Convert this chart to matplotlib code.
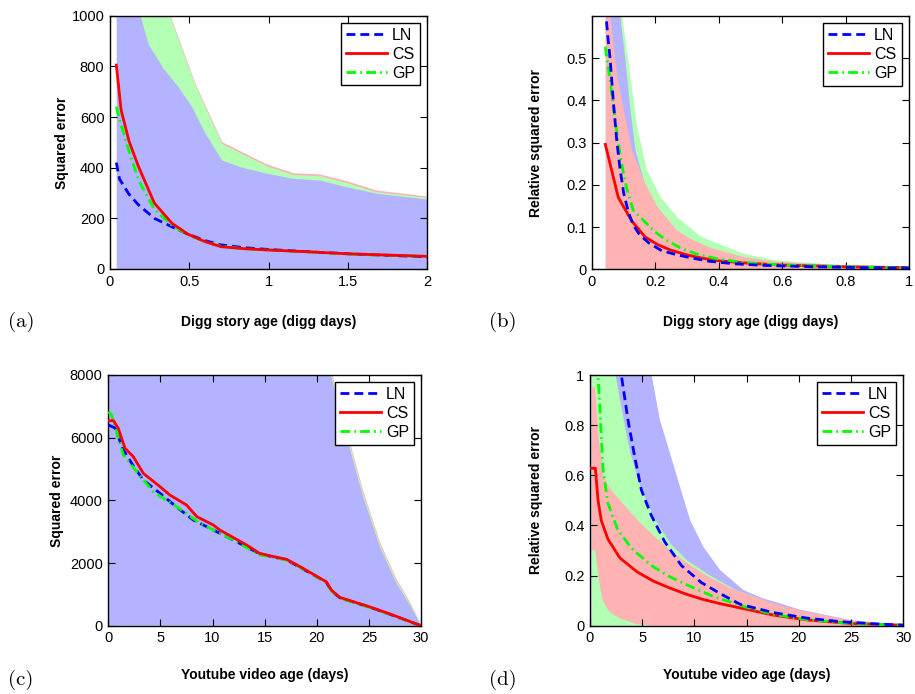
import matplotlib
matplotlib.use('Agg')
import matplotlib.pyplot as plt
from matplotlib.ticker import FuncFormatter

plt.rcParams['font.family'] = ['Liberation Sans', 'DejaVu Sans']

BLUE_F = '#b3b3ff'
GREEN_F = '#b3ffb3'
RED_F = '#ffb3b3'

LEGEND = ['LN', 'CS', 'GP']

# ---------------- Panel (a): Digg, squared error ----------------
a_cs_x = [0.04, 0.07, 0.12, 0.18, 0.28, 0.39, 0.49, 0.6, 0.7, 0.85, 1.0, 1.25, 1.5, 1.75, 2.0]
a_cs_y = [805, 628, 505, 404, 260, 181, 138, 108, 88, 80, 75, 68, 60, 55, 50]
a_ln_x = [0.04, 0.06, 0.12, 0.18, 0.28, 0.39, 0.49, 0.6, 0.7, 0.85, 1.0, 1.25, 1.5, 1.75, 2.0]
a_ln_y = [420, 355, 295, 253, 200, 167, 138, 112, 95, 84, 77, 68, 60, 54, 48]
a_gp_x = [0.04, 0.06, 0.12, 0.18, 0.28, 0.39, 0.49, 0.6, 0.7, 0.85, 1.0, 1.25, 1.5, 1.75, 2.0]
a_gp_y = [641, 590, 465, 351, 235, 173, 135, 108, 90, 80, 75, 67, 59, 54, 50]
a_blue_x = [0.04, 0.19, 0.24, 0.336, 0.43, 0.515, 0.60, 0.705, 0.82, 0.99, 1.155, 1.325, 1.49, 1.68, 2.0]
a_blue_top = [1500, 1000, 890, 792, 720, 641, 536, 430, 404, 378, 358, 351, 325, 299, 276]
a_band_x = [0.04, 0.2, 0.38, 0.536, 0.705, 0.98, 1.155, 1.325, 1.49, 1.68, 2.0]
a_red_top = [1800, 1300, 1000, 733, 503, 417, 380, 375, 349, 312, 288]
a_green_top = [1790, 1295, 993, 726, 496, 410, 373, 368, 342, 305, 283]

# ---------------- Panel (b): Digg, relative squared error ----------------
b_cs_x = [0.042, 0.083, 0.125, 0.167, 0.208, 0.25, 0.3, 0.35, 0.4, 0.5, 0.6, 0.7, 0.8, 0.9, 1.0]
b_cs_y = [0.296, 0.170, 0.115, 0.077, 0.058, 0.045, 0.034, 0.026, 0.02, 0.014, 0.010, 0.008, 0.006, 0.005, 0.004]
b_ln_x = [0.042, 0.05, 0.057, 0.067, 0.078, 0.088, 0.1, 0.115, 0.13, 0.15, 0.18, 0.22, 0.27, 0.32, 0.37, 0.45, 0.55, 0.7, 0.85, 1.0]
b_ln_y = [0.62, 0.55, 0.50, 0.40, 0.306, 0.24, 0.18, 0.135, 0.105, 0.082, 0.062, 0.044, 0.034, 0.026, 0.019, 0.013, 0.009, 0.006, 0.004, 0.003]
b_gp_x = [0.042, 0.057, 0.073, 0.088, 0.1, 0.11, 0.13, 0.162, 0.2, 0.235, 0.28, 0.33, 0.4, 0.47, 0.55, 0.7, 0.85, 1.0]
b_gp_y = [0.527, 0.448, 0.354, 0.274, 0.225, 0.19, 0.14, 0.116, 0.088, 0.069, 0.05, 0.036, 0.024, 0.017, 0.012, 0.008, 0.005, 0.004]
b_red_x = [0.042, 0.057, 0.078, 0.099, 0.125, 0.162, 0.204, 0.267, 0.31, 0.372, 0.477, 0.58, 0.79, 1.0]
b_red_top = [0.70, 0.598, 0.456, 0.377, 0.282, 0.211, 0.15, 0.093, 0.073, 0.052, 0.03, 0.019, 0.01, 0.006]
b_blue_x = [0.042, 0.088, 0.104, 0.12, 0.136, 0.162, 0.2, 0.3, 0.5, 1.0]
b_blue_top = [0.9, 0.6, 0.496, 0.377, 0.282, 0.211, 0.14, 0.06, 0.02, 0.005]
b_green_x = [0.042, 0.094, 0.12, 0.141, 0.172, 0.215, 0.267, 0.34, 0.372, 0.477, 0.58, 0.79, 1.0]
b_green_top = [1.0, 0.6, 0.456, 0.338, 0.235, 0.172, 0.125, 0.08, 0.069, 0.038, 0.022, 0.011, 0.007]

# ---------------- Panel (c): Youtube, squared error ----------------
c_cs_x = [0, 0.5, 0.96, 1.6, 2.4, 3.36, 4.96, 5.9, 7.5, 8.5, 10.07, 10.7, 13.27, 14.5, 15.5, 17.1, 18.4, 20.9, 21.4, 22.2, 25, 27.3, 30]
c_cs_y = [6543, 6543, 6300, 5662, 5394, 4862, 4437, 4172, 3853, 3479, 3214, 3054, 2576, 2311, 2230, 2119, 1883, 1405, 1139, 905, 610, 341, 0]
c_ln_x = [0, 0.64, 1.44, 2.4, 3.36, 4.96, 6.5, 8.15, 9.8, 11.35, 13, 14.5, 15.5, 17.1, 18.4, 20.9, 21.4, 22.2, 25, 27.3, 30]
c_ln_y = [6406, 6311, 5608, 5100, 4650, 4225, 3800, 3374, 3100, 2842, 2560, 2300, 2220, 2100, 1860, 1390, 1120, 890, 600, 330, 0]
c_gp_x = [0, 0.32, 1.44, 2.72, 4.3, 6.55, 8.8, 12, 14.5, 15.5, 17.1, 18.4, 20.9, 21.4, 22.2, 25, 27.3, 30]
c_gp_y = [6831, 6725, 5449, 4916, 4278, 3800, 3267, 2735, 2260, 2210, 2090, 1860, 1390, 1110, 880, 590, 330, 0]
c_band_x = [0, 10, 15, 20, 21.4, 22.86, 24.45, 26.05, 27.65, 28.9, 29.9, 30]
c_blue_top = [40000, 22000, 16000, 9800, 7947, 6032, 4117, 2521, 1353, 680, 70, 0]
c_green_top = [40100, 22100, 16100, 9920, 8060, 6140, 4215, 2600, 1420, 730, 95, 0]
c_red_top = [40200, 22200, 16200, 10040, 8170, 6245, 4310, 2680, 1490, 780, 120, 0]

# ---------------- Panel (d): Youtube, relative squared error ----------------
d_cs_x = [0.1, 0.51, 0.61, 0.77, 1.08, 1.72, 2.87, 4.5, 6.06, 7.66, 9.26, 10.8, 12.45, 15.6, 17.6, 20.8, 24.9, 30]
d_cs_y = [0.628, 0.628, 0.581, 0.50, 0.42, 0.345, 0.27, 0.215, 0.178, 0.15, 0.125, 0.105, 0.088, 0.06, 0.042, 0.023, 0.009, 0.002]
d_ln_x = [2.8, 3.0, 3.64, 4.28, 4.92, 5.87, 7.15, 8.75, 10.66, 12.6, 14.4, 17.6, 20.8, 24, 27, 30]
d_ln_y = [1.1, 1.0, 0.82, 0.674, 0.541, 0.44, 0.335, 0.24, 0.172, 0.125, 0.085, 0.052, 0.03, 0.016, 0.008, 0.002]
d_gp_x = [0.6, 0.77, 0.93, 1.08, 1.25, 1.72, 2.68, 3.96, 4.47, 6.06, 7.66, 9.26, 11.9, 15.1, 17.6, 20.8, 24.9, 30]
d_gp_y = [1.2, 0.993, 0.887, 0.754, 0.621, 0.488, 0.38, 0.31, 0.29, 0.235, 0.195, 0.163, 0.115, 0.072, 0.045, 0.024, 0.009, 0.002]
d_red_x = [0.13, 0.45, 0.77, 1.08, 1.25, 1.72, 2.04, 2.87, 4.47, 6.06, 7.66, 9.26, 11.18, 13.4, 15.1, 17.6, 20.8, 24.9, 29.7]
d_red_top = [0.953, 0.953, 0.754, 0.66, 0.6, 0.56, 0.54, 0.5, 0.425, 0.36, 0.303, 0.252, 0.2, 0.152, 0.128, 0.089, 0.056, 0.023, 0.003]
d_red_low = [0.302, 0.302, 0.195, 0.116, 0.095, 0.063, 0.05, 0.03, 0.008, 0, 0, 0, 0, 0, 0, 0, 0, 0, 0]
d_green_x = [0.13, 2.4, 3.19, 3.83, 4.79, 6.06, 7.66, 9.26, 11.18, 13.4, 16, 20, 25, 30]
d_green_top = [1.6, 1.0, 0.82, 0.688, 0.554, 0.435, 0.329, 0.262, 0.209, 0.156, 0.1, 0.05, 0.018, 0.002]
d_blue_x = [0.13, 5.9, 6.7, 7.66, 8.62, 9.58, 10.85, 12.45, 14.7, 16.5, 18.2, 20, 25, 30]
d_blue_top = [3.0, 1.0, 0.82, 0.688, 0.554, 0.422, 0.315, 0.222, 0.142, 0.11, 0.089, 0.065, 0.022, 0.003]

# ---------------- Figure ----------------
W, H = 915, 694
fig = plt.figure(figsize=(W / 100, H / 100), dpi=100)


def add_ax(l, t, r, b):
    return fig.add_axes([l / W, 1 - b / H, (r - l) / W, (b - t) / H])


fmt = FuncFormatter(lambda v, p: '%g' % v)


def style(ax, xlim, ylim, xticks, yticks, xlabel, ylabel, ylx):
    ax.set_xlim(*xlim)
    ax.set_ylim(*ylim)
    ax.set_xticks(xticks)
    ax.set_yticks(yticks)
    ax.xaxis.set_major_formatter(fmt)
    ax.yaxis.set_major_formatter(fmt)
    ax.tick_params(direction='in', top=True, right=True, length=5, width=0.8,
                   labelsize=10.5, pad=4)
    for s in ax.spines.values():
        s.set_linewidth(1.0)
    ax.set_xlabel(xlabel, fontsize=10, fontweight='bold', va='center')
    ax.xaxis.set_label_coords(0.5, -0.21)
    ax.set_ylabel(ylabel, fontsize=10, fontweight='bold', va='center', ha='center')
    ax.yaxis.set_label_coords(ylx, 0.5)


def lines(ax, lnx, lny, csx, csy, gpx, gpy, zs):
    l1, = ax.plot(lnx, lny, color='#0000ff', ls=(0, (3.2, 1.8)), lw=2, zorder=zs[0])
    l2, = ax.plot(csx, csy, color='#ff0000', ls='-', lw=2, zorder=zs[1])
    l3, = ax.plot(gpx, gpy, color='#00ff00', ls=(0, (3.5, 1.5, 0.6, 1.5)), lw=2, zorder=zs[2])
    leg = ax.legend([l1, l2, l3], LEGEND, loc='upper right', fontsize=11.5,
                    frameon=True, fancybox=False, edgecolor='black', framealpha=1,
                    borderaxespad=0.45, handlelength=2.6, labelspacing=0.25,
                    handletextpad=0.3, borderpad=0.3)
    leg.get_frame().set_linewidth(1.0)
    leg.set_zorder(10)


# (a)
axa = add_ax(110, 15.7, 427, 269)
axa.fill_between(a_band_x, 0, a_red_top, color=RED_F, lw=0, zorder=1)
axa.fill_between(a_band_x, 0, a_green_top, color=GREEN_F, lw=0, zorder=1.1)
axa.fill_between(a_blue_x, 0, a_blue_top, color=BLUE_F, lw=0, zorder=1.2)
lines(axa, a_ln_x, a_ln_y, a_cs_x, a_cs_y, a_gp_x, a_gp_y, (3, 5, 4))
style(axa, (0, 2), (0, 1000), [0, 0.5, 1, 1.5, 2], [0, 200, 400, 600, 800, 1000],
      'Digg story age (digg days)', 'Squared error', -0.151)

# (b)
axb = add_ax(592, 16, 909, 269.3)
axb.fill_between(b_green_x, 0, b_green_top, color=GREEN_F, lw=0, zorder=1)
axb.fill_between(b_blue_x, 0, b_blue_top, color=BLUE_F, lw=0, zorder=1.1)
axb.fill_between(b_red_x, 0, b_red_top, color=RED_F, lw=0, zorder=1.2)
lines(axb, b_ln_x, b_ln_y, b_cs_x, b_cs_y, b_gp_x, b_gp_y, (5, 3, 4))
style(axb, (0, 1), (0, 0.6), [0, 0.2, 0.4, 0.6, 0.8, 1], [0, 0.1, 0.2, 0.3, 0.4, 0.5],
      'Digg story age (digg days)', 'Relative squared error', -0.178)

# (c)
axc = add_ax(108.3, 375, 421, 625.7)
axc.fill_between(c_band_x, 0, c_red_top, color=RED_F, lw=0, zorder=1)
axc.fill_between(c_band_x, 0, c_green_top, color=GREEN_F, lw=0, zorder=1.1)
axc.fill_between(c_band_x, 0, c_blue_top, color=BLUE_F, lw=0, zorder=1.2)
lines(axc, c_ln_x, c_ln_y, c_cs_x, c_cs_y, c_gp_x, c_gp_y, (3, 5, 4))
style(axc, (0, 30), (0, 8000), [0, 5, 10, 15, 20, 25, 30], [0, 2000, 4000, 6000, 8000],
      'Youtube video age (days)', 'Squared error', -0.164)
axc.xaxis.set_label_coords(0.5, -0.197)

# (d)
axd = add_ax(590, 375, 903.3, 625.7)
axd.fill_between(d_blue_x, 0, d_blue_top, color=BLUE_F, lw=0, zorder=1)
axd.fill_between(d_green_x, 0, d_green_top, color=GREEN_F, lw=0, zorder=1.1)
axd.fill_between(d_red_x, d_red_low, d_red_top, color=RED_F, lw=0, zorder=1.2)
lines(axd, d_ln_x, d_ln_y, d_cs_x, d_cs_y, d_gp_x, d_gp_y, (5, 3, 4))
style(axd, (0, 30), (0, 1), [0, 5, 10, 15, 20, 25, 30], [0, 0.2, 0.4, 0.6, 0.8, 1],
      'Youtube video age (days)', 'Relative squared error', -0.172)
axd.xaxis.set_label_coords(0.5, -0.197)

# panel letters
for lbl, px, py in [('(a)', 21, 322), ('(b)', 503, 322), ('(c)', 21, 680), ('(d)', 503, 680)]:
    fig.text(px / W, 1 - py / H, lbl, family='cmr10', fontsize=15, ha='center', va='center')

fig.savefig('out.png', dpi=100)
